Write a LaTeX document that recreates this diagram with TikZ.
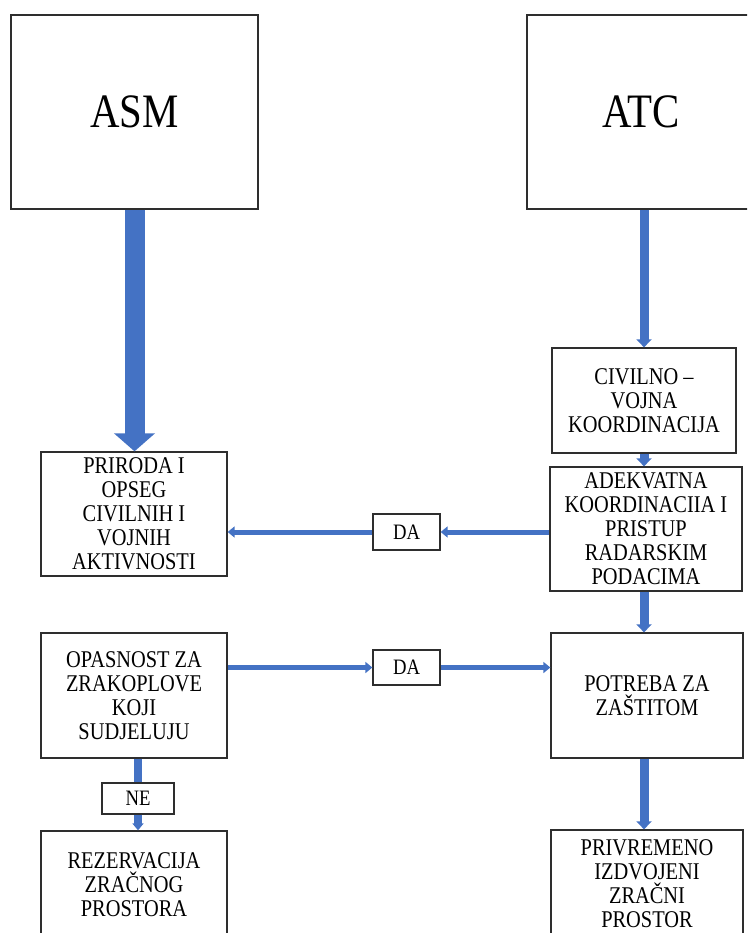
\documentclass[tikz,border=0pt]{standalone}
\usepackage{fontspec}
\setmainfont{Liberation Serif}[FakeStretch=0.85]
\usetikzlibrary{arrows.meta}
\definecolor{flowblue}{HTML}{4472C4}
\definecolor{boxgray}{HTML}{2E2E2E}

\begin{document}
\begin{tikzpicture}[x=1pt,y=-1pt,
        box/.style={draw=boxgray,line width=1.3pt,inner sep=0pt,align=center,
            font=\fontsize{24}{24}\selectfont},
        bigbox/.style={box,font=\fontsize{48}{48}\selectfont},
        tag/.style={box,font=\fontsize{22}{22}\selectfont},
        flow/.style={draw=flowblue,line width=5pt,-{Triangle[width=11pt,length=7pt]}},
        thinflow/.style={draw=flowblue,line width=9pt,-{Triangle[width=15pt,length=8pt]}},
        bigflow/.style={draw=flowblue,line width=20pt,-{Triangle[width=40pt,length=18pt]}}]
        \fill[white] (0,0) rectangle (747,933);
        \clip (0,0) rectangle (747,933);
        %% top boxes
        \node[bigbox,minimum width=247pt,minimum height=194pt] (asm) at (134.5,112) {ASM};
        \node[bigbox,minimum width=228pt,minimum height=194pt] (atc) at (641,112) {ATC};
        %% right column
        \node[box,minimum width=184pt,minimum height=105pt] (civ) at (644,400.5)
            {CIVILNO –\\VOJNA\\KOORDINACIJA};
        \node[box,minimum width=192pt,minimum height=124pt] (adek) at (646,529)
            {ADEKVATNA\\KOORDINACIIA I\\PRISTUP\\RADARSKIM\\PODACIMA};
        \node[box,minimum width=192pt,minimum height=125pt] (pot) at (647,695.5)
            {POTREBA ZA\\ZAŠTITOM};
        \node[box,minimum width=192pt,minimum height=108pt] (prv) at (647,884)
            {PRIVREMENO\\IZDVOJENI\\ZRAČNI\\PROSTOR};
        %% left column
        \node[box,minimum width=186pt,minimum height=124pt] (pri) at (134,514)
            {PRIRODA I\\OPSEG\\CIVILNIH I\\VOJNIH\\AKTIVNOSTI};
        \node[box,minimum width=186pt,minimum height=125pt] (opa) at (134,695.5)
            {OPASNOST ZA\\ZRAKOPLOVE\\KOJI\\SUDJELUJU};
        \node[box,minimum width=186pt,minimum height=108pt] (rez) at (134,885)
            {REZERVACIJA\\ZRAČNOG\\PROSTORA};
        %% answers
        \node[tag,minimum width=67pt,minimum height=36pt] (da1) at (406.5,532) {DA};
        \node[tag,minimum width=67pt,minimum height=35pt] (da2) at (406.5,667.5) {DA};
        \node[tag,minimum width=72pt,minimum height=31pt] (ne) at (138,798.5) {NE};
        %% arrows
        \draw[bigflow] (asm.south) -- (pri.north -| asm.south);
        \draw[thinflow] (civ.north |- atc.south) -- (civ.north);
        \draw[thinflow] (civ.south) -- (adek.north -| civ.south);
        \draw[thinflow] (adek.south -| civ.south) -- (pot.north -| civ.south);
        \draw[thinflow] (pot.south -| civ.south) -- (prv.north -| civ.south);
        \draw[flow] (adek.west |- da1) -- (da1.east);
        \draw[flow] (da1.west) -- (pri.east |- da1);
        \draw[flow] (opa.east |- da2) -- (da2.west);
        \draw[flow] (da2.east) -- (pot.west |- da2);
        \draw[flowblue,line width=8pt] (ne.north |- opa.south) -- (ne.north);
        \draw[flow,line width=8pt] (ne.south) -- (rez.north -| ne.south);
\end{tikzpicture}
\end{document}
